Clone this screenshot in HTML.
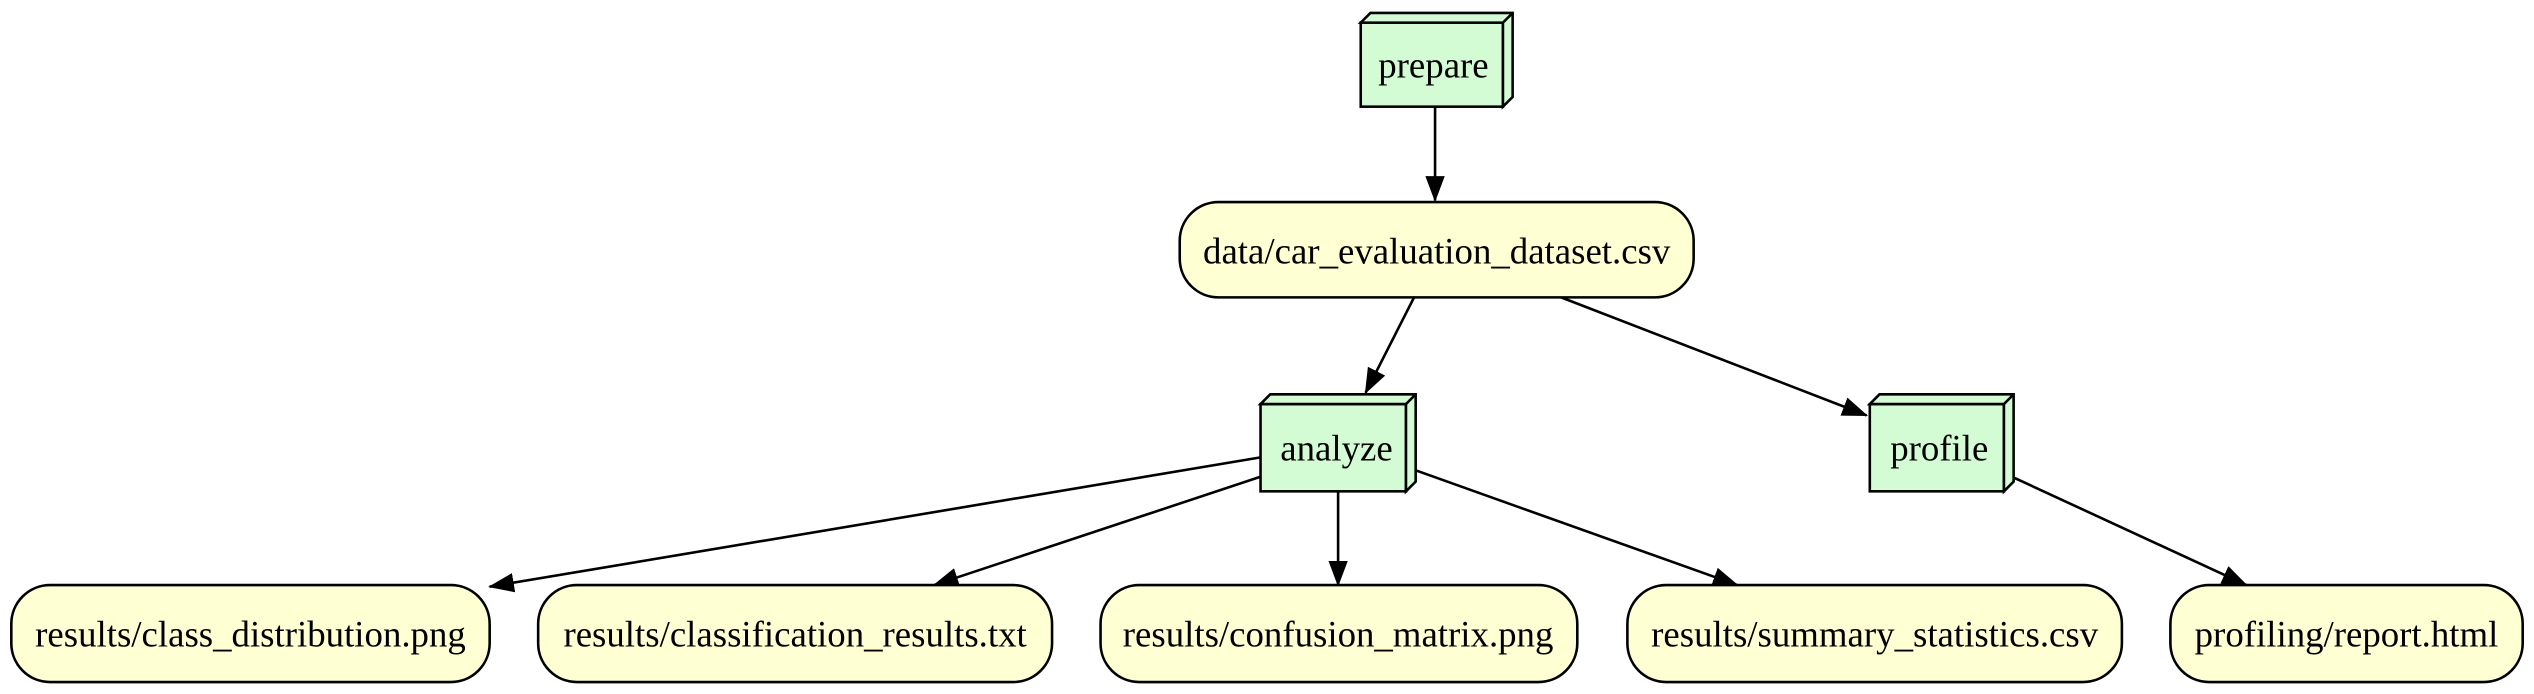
<!DOCTYPE html>
<html><head><meta charset="utf-8"><style>html,body{margin:0;padding:0;background:#fff;}svg{display:block}</style></head>
<body>
<svg width="2534" height="694" viewBox="0 0 1568 429.4" preserveAspectRatio="none" xmlns="http://www.w3.org/2000/svg" font-family="'Liberation Serif', serif" font-size="22.8">
<defs><marker id="a" markerWidth="16" markerHeight="12" refX="15" refY="6" orient="auto" markerUnits="userSpaceOnUse"><path d="M0,0 L16,6 L0,12 z" fill="#000"/></marker></defs>
<g stroke="#000" stroke-width="1.6" fill="none">
<line x1="888" y1="66" x2="888" y2="124" marker-end="url(#a)"/>
<line x1="875" y1="184" x2="845" y2="243" marker-end="url(#a)"/>
<line x1="966" y1="184" x2="1155" y2="257" marker-end="url(#a)"/>
<line x1="780" y1="283" x2="303" y2="363" marker-end="url(#a)"/>
<line x1="792" y1="291" x2="578" y2="362" marker-end="url(#a)"/>
<line x1="828" y1="304" x2="828" y2="362" marker-end="url(#a)"/>
<line x1="876" y1="291" x2="1075" y2="362" marker-end="url(#a)"/>
<line x1="1245" y1="295" x2="1390" y2="362" marker-end="url(#a)"/>
</g>
<g stroke="#000" stroke-width="1.6">
<rect x="842" y="14" width="88" height="52" fill="#d4fcd4"/>
<path d="M842,14 L848,8 L936,8 L936,60 L930,66 L930,14 Z M930,14 L936,8" fill="#d4fcd4"/>
<rect x="780" y="250" width="90" height="54" fill="#d4fcd4"/>
<path d="M780,250 L786,244 L876,244 L876,298 L870,304 L870,250 Z M870,250 L876,244" fill="#d4fcd4"/>
<rect x="1157" y="250" width="83" height="54" fill="#d4fcd4"/>
<path d="M1157,250 L1163,244 L1246,244 L1246,298 L1240,304 L1240,250 Z M1240,250 L1246,244" fill="#d4fcd4"/>
<g fill="#ffffd4">
<rect x="730" y="125" width="318" height="59" rx="24"/>
<rect x="7" y="362" width="296" height="60" rx="24"/>
<rect x="333" y="362" width="318" height="60" rx="24"/>
<rect x="681" y="362" width="295" height="60" rx="24"/>
<rect x="1007" y="362" width="306" height="60" rx="24"/>
<rect x="1343" y="362" width="218" height="60" rx="24"/>
</g>
</g>
<g fill="#000" text-anchor="middle">
<text x="887" y="48">prepare</text>
<text x="889" y="163">data/car_evaluation_dataset.csv</text>
<text x="827" y="285">analyze</text>
<text x="1200" y="285">profile</text>
<text x="155" y="400">results/class_distribution.png</text>
<text x="492" y="400">results/classification_results.txt</text>
<text x="828" y="400">results/confusion_matrix.png</text>
<text x="1160" y="400">results/summary_statistics.csv</text>
<text x="1452" y="400">profiling/report.html</text>
</g>
</svg>
</body></html>
